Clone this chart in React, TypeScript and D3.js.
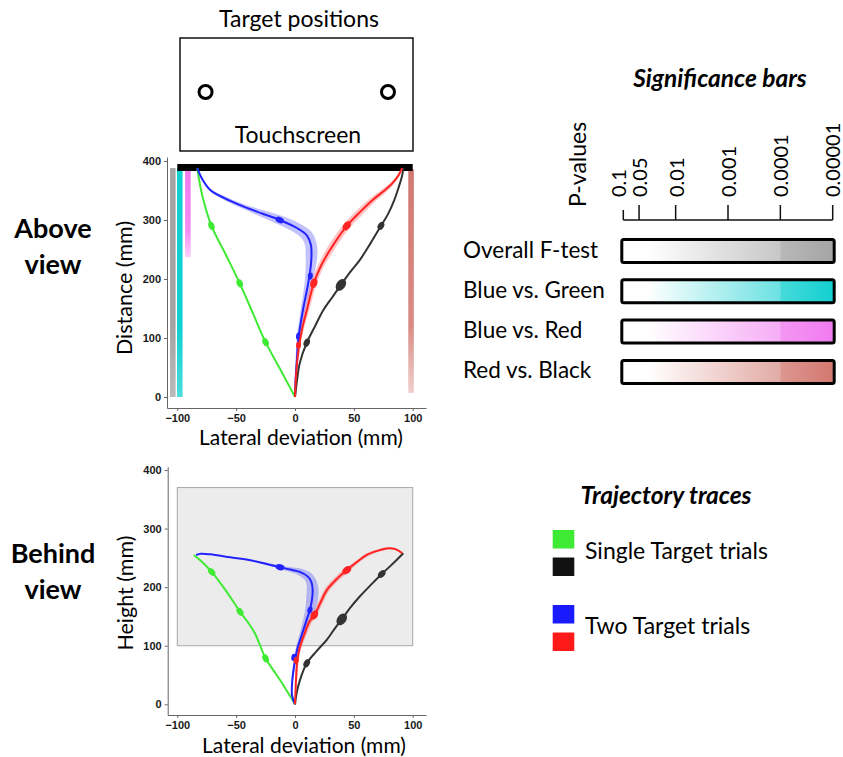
import React, { useEffect, useRef } from 'react'
import * as d3 from 'd3'

// [lateral mm, distance/height mm, half width of the shaded band in mm]
type Pt = [number, number, number]
// [lateral mm, distance/height mm, marker size]
type Mk = [number, number, number]

const xTicks = [-100, -50, 0, 50, 100]
const yTicks = [0, 100, 200, 300, 400]

/* above view */
const aboveGreen: Pt[] = [[0, 0, 0], [-12, 45, 0], [-25, 93, 0], [-36, 143, 0], [-47, 193, 0], [-59, 242, 0], [-71, 290, 0], [-78, 335, 0], [-81, 363, 0], [-83, 388, 0]]
const aboveBlue: Pt[] = [[0, 0, 0], [0.5, 30, 0.5], [1.5, 60, 1], [3, 100, 1.5], [7, 150, 2], [11, 190, 3], [13, 215, 4], [14, 240, 5], [13.5, 258, 5], [10, 274, 5], [2, 286, 4.5], [-13, 300, 4], [-28, 311, 3], [-44, 323, 2], [-60, 337, 1.5], [-72, 351, 1], [-79, 370, 0.5], [-83, 388, 0]]
const aboveRed: Pt[] = [[0, 0, 0], [1, 40, 0.5], [3, 80, 1], [6, 115, 1.5], [10, 147, 2], [16, 193, 2.5], [22, 222, 2.5], [30, 250, 3], [44, 290, 3], [56, 315, 3], [66, 334, 2.5], [76, 350, 2], [83, 363, 1.5], [88, 376, 1], [91, 388, 0]]
const aboveBlack: Pt[] = [[0, 0, 0], [1.5, 25, 0], [4, 57, 0], [10, 92, 0], [17, 120, 0], [24, 147, 0], [32, 170, 0], [39, 190, 0], [47, 212, 0], [55, 232, 0], [64, 260, 0], [73, 290, 0], [79, 310, 0], [84, 332, 0], [88, 355, 0], [91, 375, 0], [92, 388, 0]]

const aboveGreenMarks: Mk[] = [[-25, 93, 3], [-47, 193, 3], [-71, 290, 3]]
const aboveBlueMarks: Mk[] = [[3, 103, 2.5], [13, 205, 2.5], [-13, 300, 3]]
const aboveRedMarks: Mk[] = [[3, 88, 2.5], [16, 193, 3.5], [44, 290, 3.5]]
const aboveBlackMarks: Mk[] = [[10, 92, 3], [39, 190, 4.5], [73, 290, 3]]

/* behind view */
const behindGreen: Pt[] = [[0, 0, 0], [-6, 20, 0], [-12.7, 41.5, 0], [-19, 60, 0], [-25, 78.5, 0], [-34, 121, 0], [-40, 140, 0], [-46.7, 158, 0], [-58, 192, 0], [-70.8, 226, 0], [-80, 245, 0], [-86, 255, 0]]
const behindBlue: Pt[] = [[0, 0, 0], [-2.5, 15, 0.5], [-2.5, 35, 0.5], [-1.5, 55, 1], [0, 75, 1], [2, 95, 1.5], [6, 120, 2], [10, 145, 3], [12.7, 161, 4], [14.5, 180, 5], [15, 195, 5], [14, 208, 4.5], [11, 218, 4], [4, 226, 3], [-4, 230, 2], [-12.7, 234, 1.5], [-25, 240, 1], [-38, 246, 0.5], [-55, 251, 0], [-72, 256, 0], [-80, 257, 0], [-84, 255, 0]]
const behindRed: Pt[] = [[0, 0, 0], [0.5, 25, 0.5], [1, 47, 1], [2, 75, 1], [4.2, 98, 1.5], [8, 120, 2], [12, 140, 2], [16.4, 152.5, 2], [22, 175, 2], [27, 195, 2], [35, 213, 2], [44, 229, 2], [52, 242, 1.5], [61, 255, 1.5], [70, 262, 1], [78, 266, 1], [85, 265, 0.5], [91, 258, 0]]
const behindBlack: Pt[] = [[0, 0, 0], [1.4, 19, 0], [4, 40, 0], [10, 70, 0], [18, 90, 0], [27, 110, 0], [33, 127, 0], [39.7, 145, 0], [47, 165, 0], [55, 184, 0], [64, 203, 0], [73.7, 222.5, 0], [82, 238, 0], [92, 258, 0]]

const behindGreenMarks: Mk[] = [[-25, 78.5, 3], [-46.7, 158, 3], [-70.8, 226, 3]]
const behindBlueMarks: Mk[] = [[-1, 80, 2.5], [12.7, 161, 2.5], [-12.7, 234, 3]]
const behindRedMarks: Mk[] = [[1, 75, 2.5], [16.4, 152.5, 3.5], [44, 229, 3.5]]
const behindBlackMarks: Mk[] = [[10, 70, 3], [39.7, 145, 4.5], [73.7, 222.5, 3]]

// target zone shown in the behind view (lateral and height, mm)
const behindZoneLateral = [-100, 100]
const behindZoneHeight = [100, 370]

// touchscreen distance and target positions (mm)
const screenDistance = 389
const targetLateral = [-76, 79]

/* significance strips along the above view: lateral position, distance from / to (mm) */
const stripNames = ['Overall F-test', 'Blue vs. Green', 'Blue vs. Red', 'Red vs. Black']
const stripLateral = [-103.8, -97.9, -91, 98.6]
const stripFrom = [0, 0, 237, 7]
const stripTo = [388, 388, 386, 386]

/* significance legend */
const pTicks = [0.1, 0.05, 0.01, 0.001, 0.0001, 0.00001]
const pLabels = ['0.1', '0.05', '0.01', '0.001', '0.0001', '0.00001']

const sigColors = ['#a4a4a4', '#12cfd0', '#f07af0', '#d27870']
const traceColors = { green: '#3fea34', blue: '#2323ff', red: '#ff2323', black: '#333333' }

const W = 843
const H = 757
const fontMain = "Lato, 'Open Sans', sans-serif"
const fontTick = "'Liberation Sans', Arial, sans-serif"

function App() {
  const ref = useRef<SVGSVGElement>(null)

  useEffect(() => {
    const svg = d3.select(ref.current)
    svg.selectAll('*').remove()
    const defs = svg.append('defs')

    /* scales */
    const x = d3.scaleLinear().domain([-100, 100]).range([177.3, 412.7])
    const yTop = d3.scaleLinear().domain([0, 400]).range([397, 161])
    const yBot = d3.scaleLinear().domain([0, 400]).range([704.3, 470])
    const kx = (x(100) - x(0)) / 100

    /* axes */
    const drawAxes = (yScale: d3.ScaleLinear<number, number>, axisX: number, axisY: number, yTopPx: number) => {
      const xa = x.copy().domain([x.invert(axisX), x.invert(426)]).range([axisX, 426])
      const ya = yScale.copy().domain([yScale.invert(axisY), yScale.invert(yTopPx)]).range([axisY, yTopPx])
      const gx = svg.append('g').attr('transform', `translate(0,${axisY})`)
        .call(d3.axisBottom(xa).tickValues(xTicks).tickSize(3).tickSizeOuter(0).tickPadding(3).tickFormat(d3.format('d')))
      const gy = svg.append('g').attr('transform', `translate(${axisX},0)`)
        .call(d3.axisLeft(ya).tickValues(yTicks).tickSize(3).tickSizeOuter(0).tickPadding(3).tickFormat(d3.format('d')))
      for (const g of [gx, gy]) {
        g.select('.domain').attr('stroke', '#666')
        g.selectAll('.tick line').attr('stroke', '#666')
        g.selectAll('.tick text')
          .attr('font-family', fontTick)
          .attr('font-size', 11)
          .attr('font-weight', 'bold')
          .attr('fill', '#1a1a1a')
      }
    }

    /* trace drawing */
    const line = d3.line<[number, number]>().curve(d3.curveCatmullRom.alpha(0.5))
    const drawTraces = (yScale: d3.ScaleLinear<number, number>, traces: [Pt[], string, Mk[]][]) => {
      const g = svg.append('g')
      const pix = (pts: Pt[]) => pts.map(d => [x(d[0]), yScale(d[1])] as [number, number])
      const tangent = (p: [number, number][], i: number) => {
        const a = p[Math.max(0, i - 1)]
        const b = p[Math.min(p.length - 1, i + 1)]
        const dx = b[0] - a[0]
        const dy = b[1] - a[1]
        const len = Math.hypot(dx, dy) || 1
        return [dx / len, dy / len]
      }
      // shaded bands first
      traces.forEach(([pts, color]) => {
        if (!pts.some(d => d[2] > 0)) return
        const p = pix(pts)
        const left: [number, number][] = []
        const right: [number, number][] = []
        p.forEach((q, i) => {
          const [tx, ty] = tangent(p, i)
          const w = pts[i][2] * kx
          left.push([q[0] - ty * w, q[1] + tx * w])
          right.push([q[0] + ty * w, q[1] - tx * w])
        })
        g.append('path')
          .attr('d', line(left)! + line(right.reverse())!.replace('M', 'L') + 'Z')
          .attr('fill', color)
          .attr('opacity', 0.28)
      })
      traces.forEach(([pts, color, marks]) => {
        const p = pix(pts)
        g.append('path')
          .attr('d', line(p))
          .attr('fill', 'none')
          .attr('stroke', color)
          .attr('stroke-width', 2)
        marks.forEach(m => {
          const mx = x(m[0])
          const my = yScale(m[1])
          // orientation from nearest trace point
          let best = 0
          p.forEach((q, i) => {
            if (Math.hypot(q[0] - mx, q[1] - my) < Math.hypot(p[best][0] - mx, p[best][1] - my)) best = i
          })
          const [tx, ty] = tangent(p, best)
          const ang = (Math.atan2(ty, tx) * 180) / Math.PI
          g.append('ellipse')
            .attr('transform', `translate(${mx},${my}) rotate(${ang})`)
            .attr('rx', m[2] * 1.45)
            .attr('ry', m[2])
            .attr('fill', color)
        })
      })
    }

    /* ---------- Target positions diagram ---------- */
    svg.append('text')
      .attr('x', 299).attr('y', 27)
      .attr('text-anchor', 'middle')
      .attr('font-family', fontMain).attr('font-size', 23)
      .text('Target positions')
    svg.append('rect')
      .attr('x', 180).attr('y', 38).attr('width', 233).attr('height', 113)
      .attr('fill', 'none').attr('stroke', '#111').attr('stroke-width', 1.5)
    svg.selectAll('.target').data(targetLateral).enter()
      .append('circle')
      .attr('cx', d => x(d)).attr('cy', 92).attr('r', 6.5)
      .attr('fill', 'none').attr('stroke', '#000').attr('stroke-width', 3)
    svg.append('text')
      .attr('x', 298).attr('y', 143)
      .attr('text-anchor', 'middle')
      .attr('font-family', fontMain).attr('font-size', 23)
      .text('Touchscreen')

    /* ---------- Above view ---------- */
    drawAxes(yTop, 167, 408, 157)
    // significance strips
    stripNames.forEach((name, i) => {
      const id = `strip${i}`
      const grad = defs.append('linearGradient').attr('id', id).attr('x1', 0).attr('y1', 0).attr('x2', 0).attr('y2', 1)
      grad.append('stop').attr('offset', '0%').attr('stop-color', sigColors[i]).attr('stop-opacity', 1)
      grad.append('stop').attr('offset', '70%').attr('stop-color', sigColors[i]).attr('stop-opacity', i < 2 ? 1 : 0.85)
      grad.append('stop').attr('offset', '100%').attr('stop-color', sigColors[i]).attr('stop-opacity', i < 2 ? 0.75 : 0.35)
      svg.append('rect')
        .attr('x', x(stripLateral[i]) - 2.8)
        .attr('y', yTop(stripTo[i]))
        .attr('width', 5.6)
        .attr('height', yTop(stripFrom[i]) - yTop(stripTo[i]))
        .attr('fill', `url(#${id})`)
        .append('title').text(name)
    })
    // touchscreen
    svg.append('rect')
      .attr('x', x(-100)).attr('y', yTop(screenDistance) - 3.5)
      .attr('width', x(100) - x(-100)).attr('height', 7)
      .attr('fill', '#000')
    drawTraces(yTop, [
      [aboveGreen, traceColors.green, aboveGreenMarks],
      [aboveBlue, traceColors.blue, aboveBlueMarks],
      [aboveBlack, traceColors.black, aboveBlackMarks],
      [aboveRed, traceColors.red, aboveRedMarks],
    ])
    svg.append('text')
      .attr('transform', 'translate(132,288) rotate(-90)')
      .attr('text-anchor', 'middle')
      .attr('font-family', fontMain).attr('font-size', 21.5)
      .text('Distance (mm)')
    svg.append('text')
      .attr('x', 301).attr('y', 445)
      .attr('text-anchor', 'middle')
      .attr('font-family', fontMain).attr('font-size', 21)
      .text('Lateral deviation (mm)')

    /* ---------- Behind view ---------- */
    svg.append('rect')
      .attr('x', x(behindZoneLateral[0])).attr('y', yBot(behindZoneHeight[1]))
      .attr('width', x(behindZoneLateral[1]) - x(behindZoneLateral[0]))
      .attr('height', yBot(behindZoneHeight[0]) - yBot(behindZoneHeight[1]))
      .attr('fill', '#ececec').attr('stroke', '#a8a8a8').attr('stroke-width', 1)
    drawAxes(yBot, 167.7, 715, 466.7)
    drawTraces(yBot, [
      [behindGreen, traceColors.green, behindGreenMarks],
      [behindBlue, traceColors.blue, behindBlueMarks],
      [behindBlack, traceColors.black, behindBlackMarks],
      [behindRed, traceColors.red, behindRedMarks],
    ])
    svg.append('text')
      .attr('transform', 'translate(133,593) rotate(-90)')
      .attr('text-anchor', 'middle')
      .attr('font-family', fontMain).attr('font-size', 21.5)
      .text('Height (mm)')
    svg.append('text')
      .attr('x', 304).attr('y', 752.5)
      .attr('text-anchor', 'middle')
      .attr('font-family', fontMain).attr('font-size', 21)
      .text('Lateral deviation (mm)')

    /* ---------- view titles ---------- */
    const title = (lines: string[], y0: number) => {
      lines.forEach((t, i) => {
        svg.append('text')
          .attr('x', 53).attr('y', y0 + i * 36)
          .attr('text-anchor', 'middle')
          .attr('font-family', fontMain).attr('font-size', 27).attr('font-weight', 'bold')
          .text(t)
      })
    }
    title(['Above', 'view'], 238)
    title(['Behind', 'view'], 563)

    /* ---------- significance legend ---------- */
    svg.append('text')
      .attr('x', 720).attr('y', 87)
      .attr('text-anchor', 'middle')
      .attr('font-family', fontMain).attr('font-size', 24.5)
      .attr('font-weight', 'bold').attr('font-style', 'italic')
      .text('Significance bars')
    const p = d3.scaleLog().domain([0.1, 0.00001]).range([623.3, 832.7])
    const pg = svg.append('g').attr('transform', 'translate(0,220)')
    pg.append('line').attr('x1', p(0.1)).attr('x2', p(0.00001)).attr('stroke', '#111').attr('stroke-width', 1.5)
    pg.selectAll('.pt').data(pTicks).enter().append('line')
      .attr('x1', d => p(d)).attr('x2', d => p(d))
      .attr('y1', 0).attr('y2', d => (d === 0.1 ? -10 : -15))
      .attr('stroke', '#111').attr('stroke-width', 1.5)
    pg.selectAll('.pl').data(pTicks).enter().append('text')
      .attr('transform', (d, i) => `translate(${p(d) + (i === 0 ? -4 : i === pTicks.length - 1 ? 0 : 1)},-23) rotate(-90)`)
      .attr('dy', '0.35em')
      .attr('font-family', fontMain).attr('font-size', 20)
      .text((d, i) => pLabels[i])
    svg.append('text')
      .attr('transform', 'translate(586,207) rotate(-90)')
      .attr('font-family', fontMain).attr('font-size', 23)
      .text('P-values')

    const split = (p(0.0001) - p(0.1)) / (p(0.00001) - p(0.1))
    stripNames.forEach((name, i) => {
      const id = `sig${i}`
      const c = sigColors[i]
      const grad = defs.append('linearGradient').attr('id', id)
      grad.append('stop').attr('offset', '0%').attr('stop-color', '#fff')
      grad.append('stop').attr('offset', '12%').attr('stop-color', '#fff')
      grad.append('stop').attr('offset', `${split * 100 - 0.5}%`).attr('stop-color', d3.interpolateRgb('#fff', c)(0.62))
      grad.append('stop').attr('offset', `${split * 100}%`).attr('stop-color', d3.interpolateRgb('#fff', c)(0.78))
      grad.append('stop').attr('offset', '100%').attr('stop-color', c)
      const yRow = 251 + i * 40.3
      svg.append('rect')
        .attr('x', p(0.1) - 1.5).attr('y', yRow - 11.5)
        .attr('width', p(0.00001) - p(0.1) + 3).attr('height', 23)
        .attr('rx', 2)
        .attr('fill', `url(#${id})`).attr('stroke', '#000').attr('stroke-width', 3)
      svg.append('text')
        .attr('x', 463).attr('y', yRow + 6.5)
        .attr('font-family', fontMain).attr('font-size', 22.5)
        .text(name)
    })

    /* ---------- trajectory legend ---------- */
    svg.append('text')
      .attr('x', 666).attr('y', 504)
      .attr('text-anchor', 'middle')
      .attr('font-family', fontMain).attr('font-size', 24.5)
      .attr('font-weight', 'bold').attr('font-style', 'italic')
      .text('Trajectory traces')
    const legendGroups: [string, string[], number][] = [
      ['Single Target trials', [traceColors.green, '#111'], 530],
      ['Two Target trials', ['#1a1aff', '#ff1a1a'], 605],
    ]
    legendGroups.forEach(([label, colors, y0]) => {
      colors.forEach((c, j) => {
        svg.append('rect')
          .attr('x', 552.7).attr('y', y0 + j * 27.5)
          .attr('width', 21.6).attr('height', 18.5)
          .attr('fill', c)
      })
      svg.append('text')
        .attr('x', 585).attr('y', y0 + 29)
        .attr('font-family', fontMain).attr('font-size', 23)
        .text(label)
    })
  }, [])

  return (
    <svg
      ref={ref}
      width={W}
      height={H}
      style={{ position: 'absolute', left: 0, top: 0, background: '#fff' }}
    />
  )
}

export default App
